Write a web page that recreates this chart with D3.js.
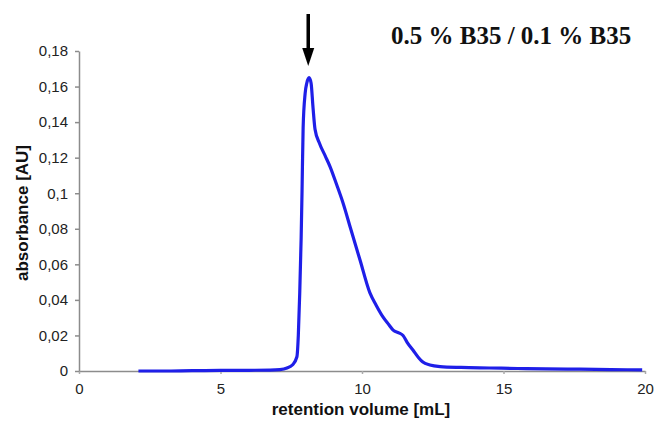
<!DOCTYPE html>
<html lang="en">
<head>
<meta charset="utf-8">
<style>
  body { margin: 0; background: white; }
  svg { display: block; }
  .axis path, .axis line { stroke: #8c8c8c; stroke-width: 1.5px; }
  .axis text { font-family: "Liberation Sans", Arial, sans-serif; font-size: 15px; fill: #222; }
  .label { font-family: "Liberation Sans", Arial, sans-serif; font-size: 17px; font-weight: bold; fill: #111; }
  .title { font-family: "Liberation Serif", "Times New Roman", serif; font-size: 25px; font-weight: bold; fill: #111; }
</style>
<script src="https://d3js.org/d3.v7.min.js"></script>
</head>
<body>
<script>
var width = 654, height = 430;

// chromatogram
var volume = [2.1, 3, 4, 5, 6, 6.75, 7.1, 7.35, 7.55, 7.7, 7.75, 7.8, 7.85, 7.88, 7.92, 7.99, 8.05, 8.13,
              8.2, 8.27, 8.34, 8.5, 8.7, 8.87, 9.1, 9.33, 9.6, 9.93, 10.28, 10.5, 10.74, 10.95, 11.1,
              11.3, 11.45, 11.6, 11.8, 12.0, 12.15, 12.4, 12.76, 13.5, 14.5, 15.5, 16.5, 17.7, 18.8, 19.9];
var absorbance = [0, 0, 0.0002, 0.0003, 0.0004, 0.0005, 0.0008, 0.0017, 0.0035, 0.008, 0.02, 0.044, 0.075, 0.1,
                  0.137, 0.156, 0.162, 0.165, 0.162, 0.148, 0.136, 0.128, 0.121, 0.115, 0.105, 0.0945, 0.08,
                  0.0624, 0.0439, 0.037, 0.0304, 0.026, 0.023, 0.0215, 0.020, 0.016, 0.0118, 0.0075, 0.005,
                  0.0034, 0.0025, 0.002, 0.0017, 0.0014, 0.0012, 0.001, 0.0008, 0.0006];

var xTicks = [0, 5, 10, 15, 20];
var yTicks = [0, 0.02, 0.04, 0.06, 0.08, 0.1, 0.12, 0.14, 0.16, 0.18];

var title = "0.5 % B35 / 0.1 % B35";
var arrowAt = 8.1;

var svg = d3.select("body").append("svg")
  .attr("width", width)
  .attr("height", height);

var x = d3.scaleLinear().domain([0, 20]).range([79, 645]);
var y = d3.scaleLinear().domain([0, 0.18]).range([371, 51]);

var comma = d3.formatLocale({decimal: ",", thousands: ".", grouping: [3], currency: ["", ""]}).format("~g");

svg.append("g")
  .attr("class", "axis")
  .attr("transform", "translate(0," + y(0) + ")")
  .call(d3.axisBottom(x).tickValues(xTicks).tickSize(3).tickSizeOuter(0).tickPadding(9))
  .call(function(g) { g.selectAll(".tick line").style("stroke", "#aaa"); });

svg.append("g")
  .attr("class", "axis")
  .attr("transform", "translate(" + x(0) + ",0)")
  .call(d3.axisLeft(y).tickValues(yTicks).tickFormat(comma).tickSize(4).tickSizeOuter(0).tickPadding(7));

var data = volume.map(function(v, i) { return [v, absorbance[i]]; });

var line = d3.line()
  .x(function(d) { return x(d[0]); })
  .y(function(d) { return y(d[1]); })
  .curve(d3.curveMonotoneX);

svg.append("path")
  .datum(data)
  .attr("fill", "none")
  .attr("stroke", "#1f1fe8")
  .attr("stroke-width", 3.2)
  .attr("stroke-linejoin", "round")
  .attr("d", line);

// arrow over the peak
var ax = x(arrowAt);
svg.append("line")
  .attr("x1", ax).attr("x2", ax)
  .attr("y1", 14).attr("y2", 52)
  .attr("stroke", "black").attr("stroke-width", 3.5);
svg.append("path")
  .attr("d", "M" + (ax - 6) + ",48 L" + (ax + 6) + ",48 L" + ax + ",66 Z")
  .attr("fill", "black");

svg.append("text")
  .attr("class", "title")
  .attr("x", 391).attr("y", 44)
  .text(title);

svg.append("text")
  .attr("class", "label")
  .attr("text-anchor", "middle")
  .attr("x", 361).attr("y", 415)
  .text("retention volume [mL]");

svg.append("text")
  .attr("class", "label")
  .attr("text-anchor", "middle")
  .attr("transform", "translate(28,213) rotate(-90)")
  .text("absorbance [AU]");
</script>
</body>
</html>
